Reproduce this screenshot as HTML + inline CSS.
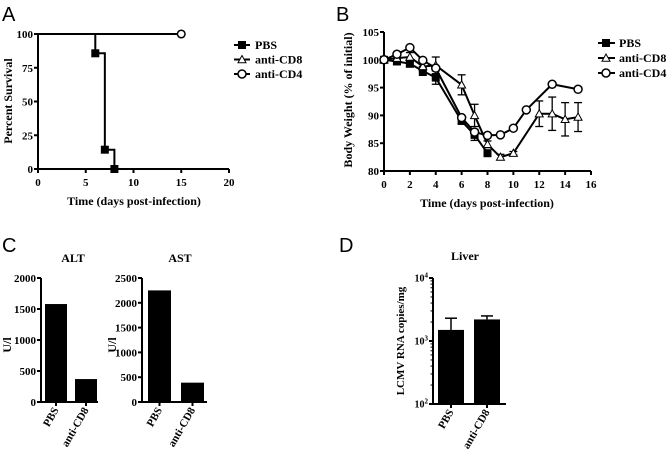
<!DOCTYPE html>
<html><head><meta charset="utf-8"><style>
html,body{margin:0;padding:0;background:#fff;}
svg{display:block;}
text{font-family:"Liberation Serif",serif;font-weight:bold;fill:#000;}
.lab{font-family:"Liberation Sans",sans-serif;font-weight:normal;font-size:20px;}
</style></head><body>
<svg id="fig" width="669" height="457" viewBox="0 0 669 457">
<text class="lab" x="2" y="21">A</text>
<text class="lab" x="336" y="21">B</text>
<text class="lab" x="2" y="252">C</text>
<text class="lab" x="339" y="252">D</text>
<g id="gA"></g>
<g id="gB"></g>
<g id="gC"></g>
<g id="gD"></g>
</svg>
<script>
// Panel A data
const survDays = [0, 6, 7, 8];
const survPBS = [100, 85.7, 14.3, 0];
const survCD4Days = [0, 15];
const survCD4 = [100, 100];
const aTicksX = [0, 5, 10, 15, 20];
const aTicksY = [0, 25, 50, 75, 100];
// Panel B data
const bDaysPBS = [0, 1, 2, 3, 4, 6, 7, 8];
const bPBS = [100, 99.7, 99.3, 98, 96.8, 89, 86.5, 83.2];
const bErrPBS = [0.3, 0.5, 0.6, 0.8, 1.2, 0.5, 1.0, 0.3];
const bDaysCD8 = [0, 1, 2, 3, 4, 6, 7, 8, 9, 10, 12, 13, 14, 15];
const bCD8 = [100, 100.3, 100.5, 98.8, 99, 95.5, 90, 84.8, 82.5, 83.2, 90.3, 90.3, 89.3, 89.7];
const bErrCD8 = [0.3, 0.5, 0.8, 0.8, 1.5, 1.8, 2.0, 0.6, 0.5, 0.3, 2.3, 3.0, 3.0, 2.6];
const bDaysCD4 = [0, 1, 2, 3, 4, 6, 7, 8, 9, 10, 11, 13, 15];
const bCD4 = [100, 101, 102.2, 99.9, 98.5, 89.6, 87, 86.4, 86.5, 87.7, 91, 95.6, 94.7];
const bTicksX = [0, 2, 4, 6, 8, 10, 12, 14, 16];
const bTicksY = [80, 85, 90, 95, 100, 105];
// Panel C data
const cCats = ["PBS", "anti-CD8"];
const altVals = [1580, 370];
const astVals = [2250, 390];
const altTicks = [0, 500, 1000, 1500, 2000];
const astTicks = [0, 500, 1000, 1500, 2000, 2500];
// Panel D data
const dVals = [1500, 2200];
const dErr = [2300, 2500];
const dTickExp = [2, 3, 4];

const NS = "http://www.w3.org/2000/svg";
function mk(parent, tag, attrs, txt) {
  const e = document.createElementNS(NS, tag);
  for (const k in attrs) e.setAttribute(k, attrs[k]);
  if (txt !== undefined) e.textContent = txt;
  parent.appendChild(e);
  return e;
}
function line(p, x1, y1, x2, y2, w) { return mk(p, "line", {x1, y1, x2, y2, stroke: "#000", "stroke-width": w || 2}); }

function markerSq(p, x, y, s) { return mk(p, "rect", {x: x - s, y: y - s, width: 2 * s, height: 2 * s, fill: "#000"}); }
function markerTri(p, x, y, s) { return mk(p, "polygon", {points: `${x},${y - s} ${x - s},${y + s * 0.8} ${x + s},${y + s * 0.8}`, fill: "#fff", stroke: "#000", "stroke-width": 1}); }
function markerCirc(p, x, y, s) { return mk(p, "circle", {cx: x, cy: y, r: s, fill: "#fff", stroke: "#000", "stroke-width": 1.5}); }

// ---------- Panel A ----------
(function () {
  const g = document.getElementById("gA");
  const X = d => 38 + d * (229 - 38) / 20;
  const Y = v => 169 - v * (169 - 34) / 100;
  line(g, 38, 34, 38, 170);
  line(g, 37, 169, 229, 169);
  aTicksX.forEach(t => { line(g, X(t), 169, X(t), 173); let e = mk(g, "text", {x: X(t), y: 186, "font-size": 11, "text-anchor": "middle"}, t);   });
  aTicksY.forEach(t => { line(g, 34, Y(t), 38, Y(t)); let e = mk(g, "text", {x: 33, y: Y(t) + 4, "font-size": 11, "text-anchor": "end"}, t);   });
  let xt = mk(g, "text", {x: 134, y: 205, "font-size": 12, "text-anchor": "middle"}, "Time (days post-infection)");
   
  let yt = mk(g, "text", {x: 0, y: 0, "font-size": 12, "text-anchor": "middle", transform: "translate(12,101) rotate(-90)"}, "Percent Survival");
   
  let l4 = mk(g, "line", {x1: X(survCD4Days[0]), y1: Y(survCD4[0]), x2: X(survCD4Days[1]), y2: Y(survCD4[1]), stroke: "#000", "stroke-width": 2});
   
  let d = `M${X(survDays[0])},${Y(survPBS[0])}`;
  for (let i = 1; i < survDays.length; i++) d += ` H${X(survDays[i])} V${Y(survPBS[i])}`;
  let p = mk(g, "path", {d, fill: "none", stroke: "#000", "stroke-width": 2});
   
  for (let i = 1; i < survDays.length; i++) { let m = markerSq(g, X(survDays[i]), Y(survPBS[i]), 4);   }
  let c = markerCirc(g, X(15), Y(100), 3.8);  
  const leg = [["PBS", markerSq], ["anti-CD8", markerTri], ["anti-CD4", markerCirc]];
  leg.forEach((l, i) => {
    const y = 45 + i * 14.5;
    const lg = mk(g, "g", {});
     
    line(lg, 234, y, 250, y);
    l[1](lg, 242, y, 4);
    mk(lg, "text", {x: 255, y: y + 4, "font-size": 12}, l[0]);
  });
})();

// ---------- Panel B ----------
(function () {
  const g = document.getElementById("gB");
  const X = d => 384 + d * (591 - 384) / 16;
  const Y = v => 171 - (v - 80) * (171 - 32) / 25;
  line(g, 384, 32, 384, 172);
  line(g, 383, 171, 591, 171);
  bTicksX.forEach(t => { line(g, X(t), 171, X(t), 175); let e = mk(g, "text", {x: X(t), y: 188, "font-size": 11, "text-anchor": "middle"}, t);   });
  bTicksY.forEach(t => { line(g, 380, Y(t), 384, Y(t)); let e = mk(g, "text", {x: 379, y: Y(t) + 4, "font-size": 11, "text-anchor": "end"}, t);   });
  let xt = mk(g, "text", {x: 487, y: 207, "font-size": 12, "text-anchor": "middle"}, "Time (days post-infection)");
   
  let yt = mk(g, "text", {x: 0, y: 0, "font-size": 12, "text-anchor": "middle", transform: "translate(352,100) rotate(-90)"}, "Body Weight (% of initial)");
   
  function series(days, vals, errs, marker, name) {
    const sg = mk(g, "g", {});
     
    if (errs) days.forEach((d, i) => {
      const x = X(d), y1 = Y(vals[i] + errs[i]), y2 = Y(vals[i] - errs[i]);
      line(sg, x, y1, x, y2, 1.3); line(sg, x - 4, y1, x + 4, y1, 1.3); line(sg, x - 4, y2, x + 4, y2, 1.3);
    });
    mk(sg, "polyline", {points: days.map((d, i) => X(d) + "," + Y(vals[i])).join(" "), fill: "none", stroke: "#000", "stroke-width": 2});
    days.forEach((d, i) => { let m = marker(sg, X(d), Y(vals[i]), 4);   });
  }
  series(bDaysPBS, bPBS, bErrPBS, markerSq, "pbs");
  series(bDaysCD8, bCD8, bErrCD8, markerTri, "anti-cd8");
  series(bDaysCD4, bCD4, null, markerCirc, "anti-cd4");
  const leg = [["PBS", markerSq], ["anti-CD8", markerTri], ["anti-CD4", markerCirc]];
  leg.forEach((l, i) => {
    const y = 43 + i * 15;
    const lg = mk(g, "g", {});
     
    line(lg, 598, y, 615, y);
    l[1](lg, 606, y, 4);
    mk(lg, "text", {x: 619, y: y + 4, "font-size": 12}, l[0]);
  });
})();

// ---------- Panel C ----------
(function () {
  const g = document.getElementById("gC");
  function bars(ax, axEnd, max, vals, ticks, title, titleX, ulX, barX, barW, name) {
    const sg = mk(g, "g", {});
     
    const Y = v => 402 - v * (402 - 278) / max;
    line(sg, ax, 278, ax, 403);
    line(sg, ax - 1, 402, axEnd, 402);
    ticks.forEach(t => { line(sg, ax - 4, Y(t), ax, Y(t)); let e = mk(sg, "text", {x: ax - 5, y: Y(t) + 4, "font-size": 11, "text-anchor": "end"}, t);   });
    let tt = mk(sg, "text", {x: titleX, y: 262, "font-size": 12, "text-anchor": "middle"}, title);
     
    let ul = mk(sg, "text", {x: 0, y: 0, "font-size": 12, "text-anchor": "middle", transform: `translate(${ulX},345) rotate(-90)`}, "U/l");
     
    vals.forEach((v, i) => {
      const x = barX[i];
      let b = mk(sg, "rect", {x, y: Y(v), width: barW, height: 402 - Y(v), fill: "#000"});
       
      const cx = x + barW / 2;
      line(sg, cx, 402, cx, 406);
      let lt = mk(sg, "text", {x: 0, y: 0, "font-size": 11, "text-anchor": "end", transform: `translate(${cx + 3},410) rotate(-60)`}, cCats[i]);
       
    });
  }
  bars(41, 98, 2000, altVals, altTicks, "ALT", 73, 11, [45, 75], 22, "alt-chart");
  bars(142, 207, 2500, astVals, astTicks, "AST", 180, 116, [148, 181], 23, "ast-chart");
})();

// ---------- Panel D ----------
(function () {
  const g = document.getElementById("gD");
  const ax = 433, top = 278, bot = 404;
  const Y = v => bot - (Math.log10(v) - 2) * (bot - top) / 2;
  line(g, ax, top, ax, bot + 1);
  line(g, ax - 1, bot, 506, bot);
  dTickExp.forEach(e => {
    line(g, ax - 4, Y(Math.pow(10, e)), ax, Y(Math.pow(10, e)));
    const t = mk(g, "text", {x: ax - 5, y: Y(Math.pow(10, e)) + 3.5, "font-size": 10, "text-anchor": "end"});
     
    t.textContent = "10";
    mk(t, "tspan", {dy: -4, "font-size": 7}, e);
  });
  for (let e = 2; e < 4; e++) for (let k = 2; k < 10; k++) line(g, ax - 2.5, Y(k * Math.pow(10, e)), ax, Y(k * Math.pow(10, e)), 1);
  let tt = mk(g, "text", {x: 465, y: 260, "font-size": 12, "text-anchor": "middle"}, "Liver");
   
  let yt = mk(g, "text", {x: 0, y: 0, "font-size": 11, "text-anchor": "middle", transform: "translate(404,341) rotate(-90)"}, "LCMV RNA copies/mg");
   
  const bx = [438, 474], bw = [26, 26];
  dVals.forEach((v, i) => {
    const x = bx[i], cx = x + bw[i] / 2;
    line(g, cx, Y(v), cx, Y(dErr[i]), 1.5);
    line(g, cx - 6, Y(dErr[i]), cx + 6, Y(dErr[i]), 1.5);
    let b = mk(g, "rect", {x, y: Y(v), width: bw[i], height: bot - Y(v), fill: "#000"});
     
    line(g, cx, bot, cx, bot + 4);
    let lt = mk(g, "text", {x: 0, y: 0, "font-size": 11, "text-anchor": "end", transform: `translate(${cx + 3},412) rotate(-60)`}, cCats[i]);
     
  });
})();
</script>
</body></html>
